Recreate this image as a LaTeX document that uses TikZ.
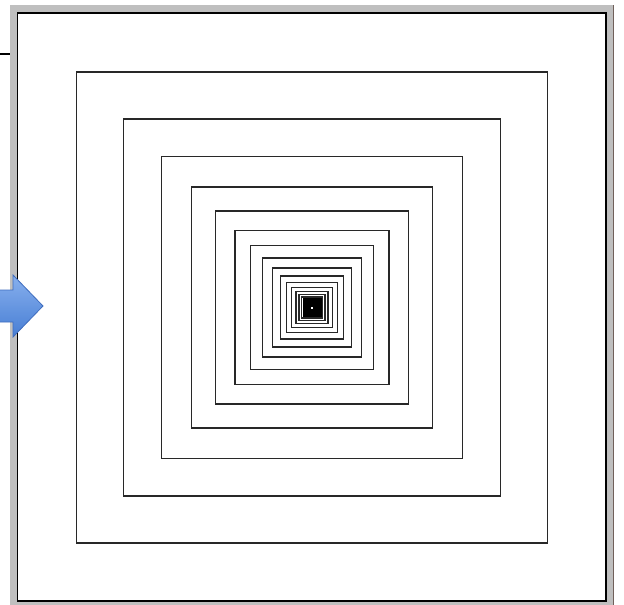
\documentclass[tikz,border=0pt]{standalone}
\definecolor{FrameGray}{RGB}{191,191,191}
\definecolor{LineDark}{RGB}{40,40,40}
\definecolor{ArrowTop}{RGB}{135,176,238}
\definecolor{ArrowBot}{RGB}{72,126,212}
\definecolor{ArrowEdge}{RGB}{62,108,190}
\definecolor{EdgeBrown}{RGB}{112,96,90}
\usepackage{tikz}

\begin{document}
\begin{tikzpicture}[
          x=1pt, y=-1pt,
          page/.style={
            draw=black,
            line width=1.6pt,
            fill=white
          },
          square/.style={draw=LineDark, line width=1.4pt},
          blockarrow/.style={draw=ArrowEdge, line width=0.8pt, line join=miter}
        ]
        \useasboundingbox (0,0) rectangle (624,605);
        % grey band round the page
        \fill[FrameGray] (10,5) rectangle (613,605);
        \draw[EdgeBrown, line width=1pt] (613.5,5) -- (613.5,605);
        \draw[page] (17.5,13) rectangle (606,601);
        \draw[black, line width=1.6pt] (0,54) -- (10,54);
        % nested squares, each 0.8 of the last
        \foreach \i in {0,...,30}{
          \pgfmathsetmacro{\r}{235.5*0.8^\i}
          \draw[square] (312-\r,307.5-\r) rectangle (312+\r,307.5+\r);
        }
        \fill[black] (302.5,298) rectangle (321.5,317);
        \fill[white] (311,306.5) rectangle (313,308.5);
        % blue arrow on the left
        \shade[top color=ArrowTop, bottom color=ArrowBot]
          (0,290) -- (13,290) -- (13,275) -- (43,306) -- (13,337) -- (13,322) -- (0,322) -- cycle;
        \draw[blockarrow] (0,290) -- (13,290) -- (13,275) -- (43,306) -- (13,337) -- (13,322) -- (0,322);
      \end{tikzpicture}
\end{document}
